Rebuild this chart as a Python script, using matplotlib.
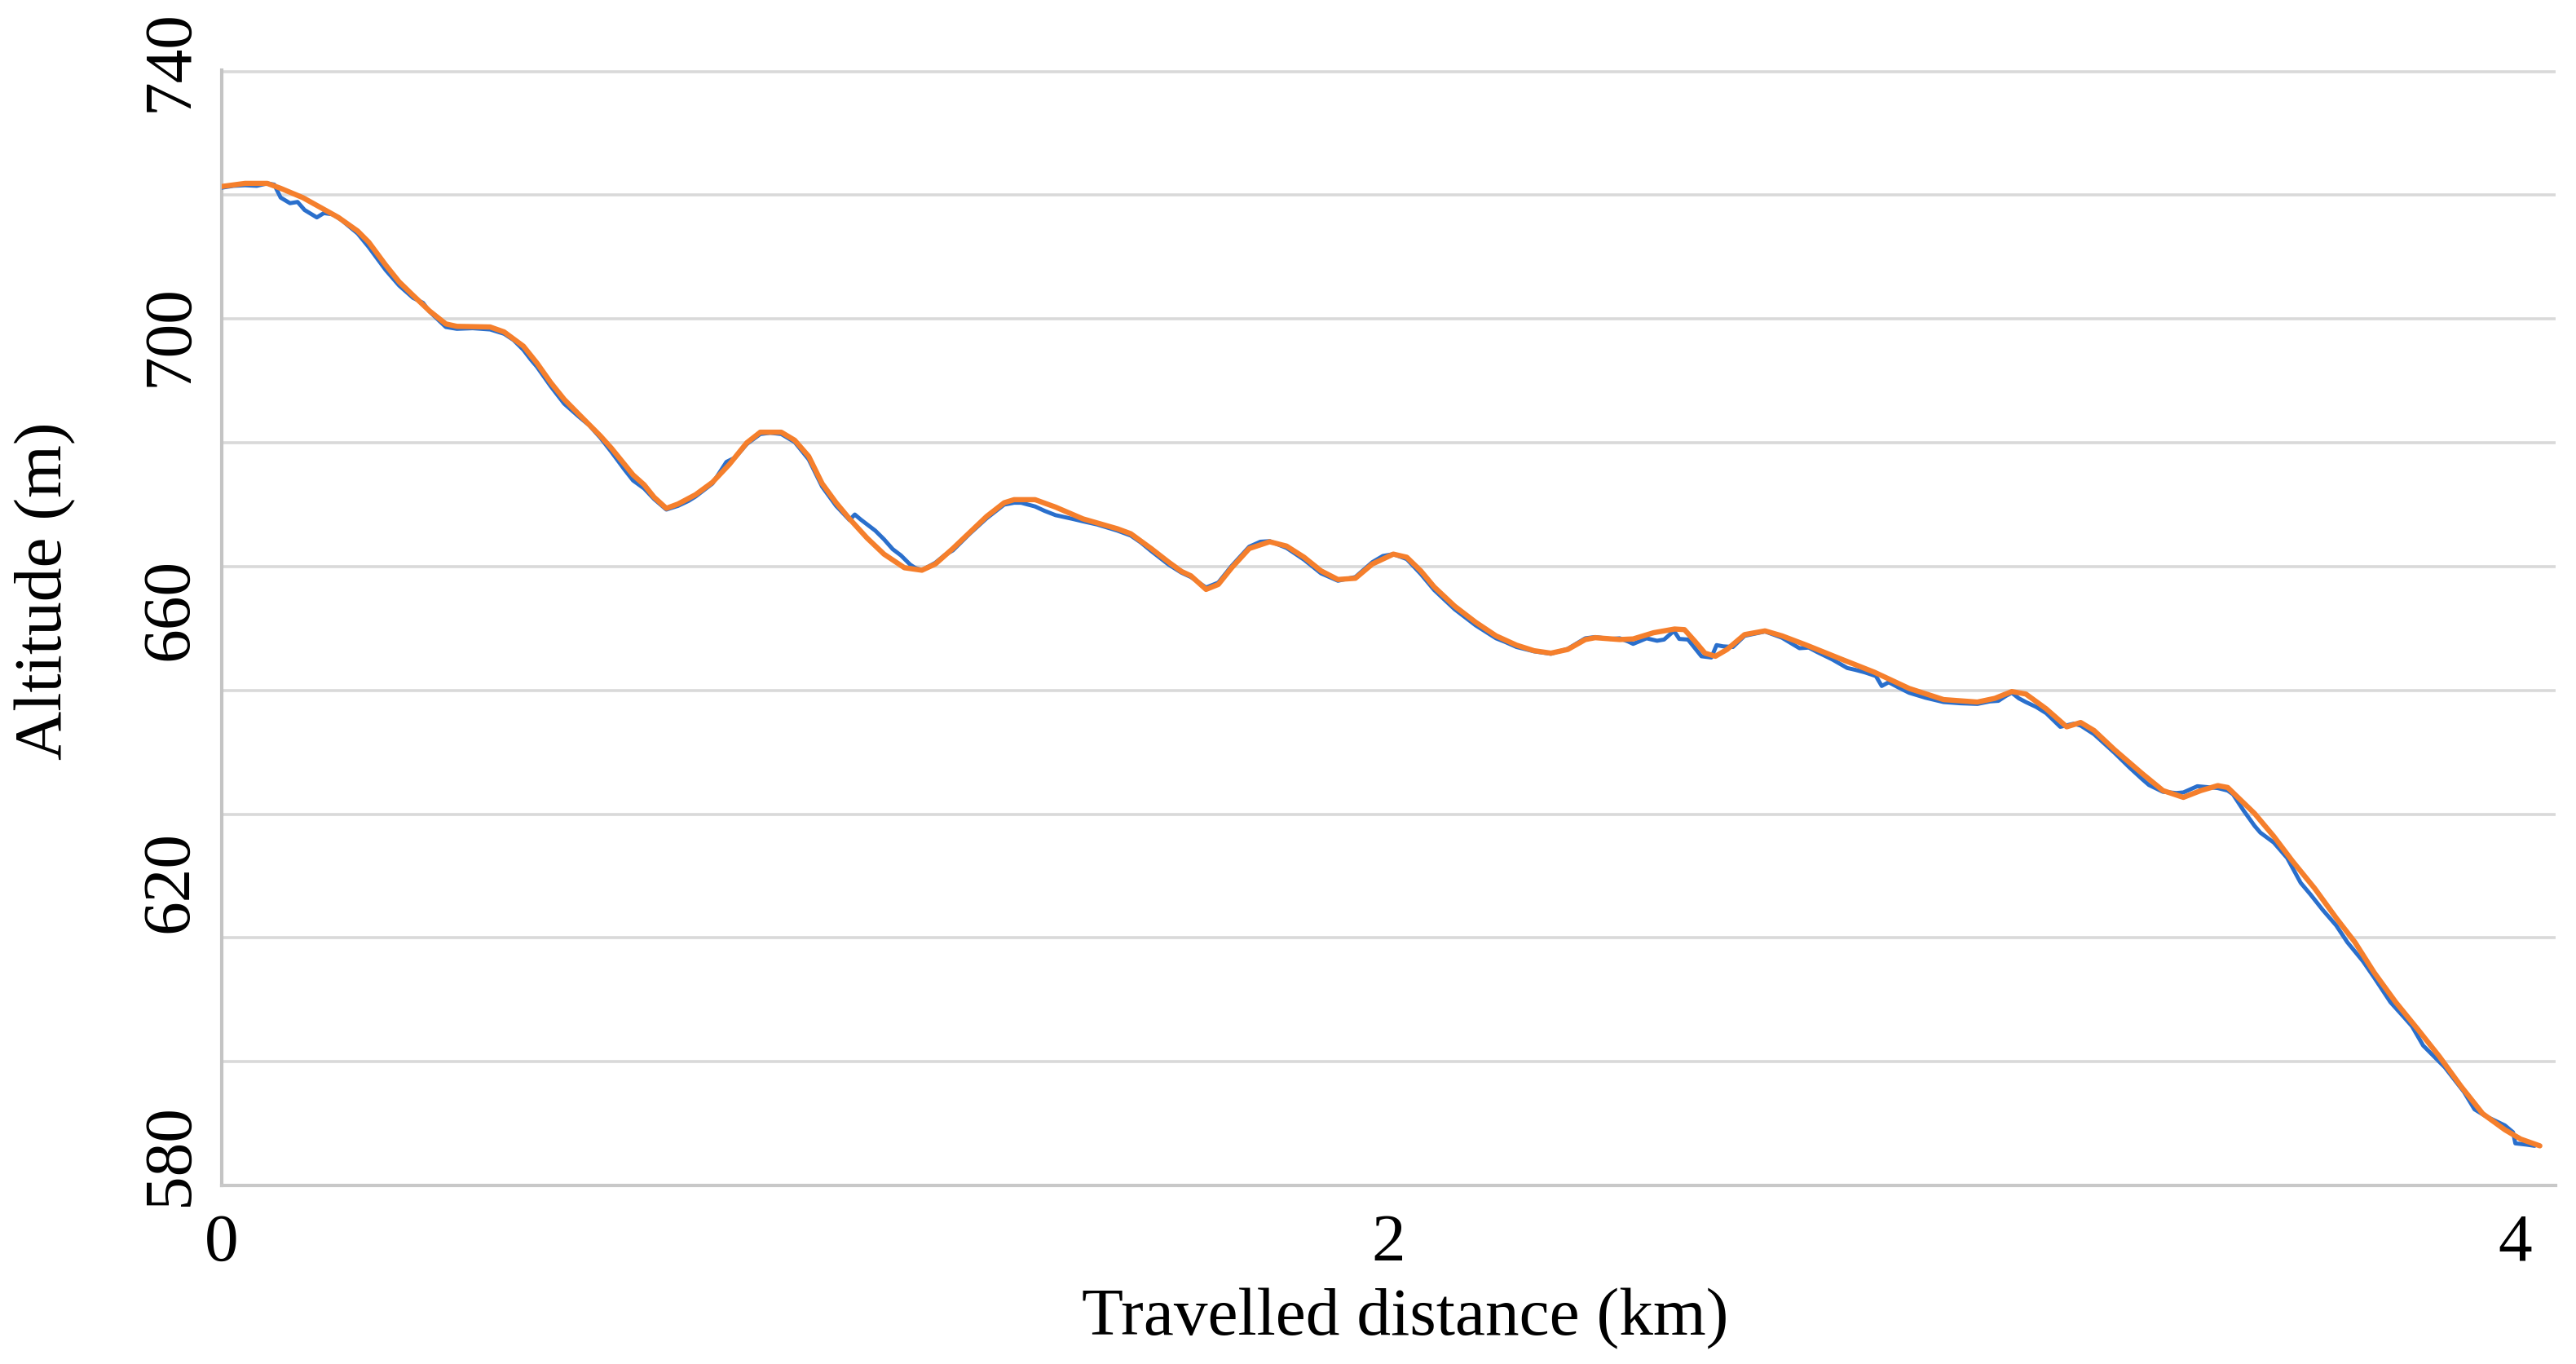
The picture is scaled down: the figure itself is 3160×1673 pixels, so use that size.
import matplotlib
matplotlib.use("Agg")
import matplotlib.pyplot as plt
import matplotlib.transforms as mtransforms

# ─── Datos ────────────────────────────────────────────────────────────────────
# perfil suavizado (naranja): distancia (km), altitud (m)
dist_suave = [0.000, 0.040, 0.078, 0.101, 0.139, 0.177, 0.200, 0.233, 0.252, 0.281,
              0.304, 0.328, 0.356, 0.384, 0.403, 0.460, 0.484, 0.517, 0.540, 0.564,
              0.587, 0.611, 0.649, 0.668, 0.705, 0.724, 0.741, 0.762, 0.782, 0.812,
              0.841, 0.870, 0.900, 0.923, 0.959, 0.982, 1.006, 1.029, 1.053, 1.076,
              1.106, 1.135, 1.170, 1.200, 1.223, 1.253, 1.282, 1.311, 1.341, 1.358,
              1.394, 1.429, 1.476, 1.535, 1.558, 1.593, 1.623, 1.645, 1.661, 1.687,
              1.708, 1.731, 1.761, 1.796, 1.825, 1.855, 1.884, 1.913, 1.943, 1.972,
              2.008, 2.031, 2.055, 2.078, 2.113, 2.149, 2.184, 2.219, 2.249, 2.278,
              2.307, 2.337, 2.354, 2.396, 2.419, 2.454, 2.490, 2.507, 2.525, 2.542,
              2.560, 2.580, 2.610, 2.645, 2.674, 2.716, 2.774, 2.833, 2.892, 2.951,
              3.009, 3.039, 3.068, 3.092, 3.127, 3.162, 3.186, 3.209, 3.244, 3.292,
              3.327, 3.362, 3.392, 3.421, 3.438, 3.461, 3.484, 3.517, 3.549, 3.587,
              3.624, 3.656, 3.689, 3.726, 3.764, 3.801, 3.838, 3.875, 3.913, 3.940,
              3.973]
alt_suave = [721.4, 721.9, 721.9, 721.1, 719.6, 717.6, 716.4, 714.2, 712.4, 708.7,
             706.0, 703.8, 701.3, 699.2, 698.8, 698.7, 697.9, 695.6, 692.9, 689.7,
             687.0, 684.7, 681.1, 679.1, 674.8, 673.2, 671.2, 669.4, 670.1, 671.6,
             673.6, 676.5, 680.0, 681.7, 681.7, 680.4, 677.8, 673.4, 670.3, 667.7,
             664.6, 662.0, 659.8, 659.4, 660.4, 662.9, 665.5, 668.1, 670.3, 670.8,
             670.8, 669.6, 667.7, 666.1, 665.3, 662.9, 660.7, 659.2, 658.5, 656.3,
             657.1, 659.8, 662.9, 664.0, 663.3, 661.5, 659.3, 657.9, 658.1, 660.4,
             662.0, 661.5, 659.3, 656.7, 653.6, 651.0, 648.8, 647.3, 646.4, 646.0,
             646.6, 648.2, 648.5, 648.2, 648.3, 649.3, 649.9, 649.8, 647.9, 646.0,
             645.5, 646.6, 649.0, 649.6, 648.8, 647.3, 645.1, 642.9, 640.3, 638.5,
             638.1, 638.7, 639.8, 639.4, 637.0, 634.1, 634.8, 633.5, 630.4, 626.5,
             623.8, 622.7, 623.8, 624.6, 624.3, 622.2, 620.1, 616.4, 612.4, 608.0,
             603.2, 599.3, 594.4, 589.6, 585.2, 580.8, 576.0, 571.6, 569.0, 567.5,
             566.4]

# perfil medido (azul)
dist_gps = [0.000, 0.020, 0.040, 0.060, 0.078, 0.090, 0.101, 0.117, 0.130, 0.142,
            0.163, 0.175, 0.190, 0.205, 0.233, 0.252, 0.281, 0.304, 0.328, 0.345,
            0.356, 0.384, 0.403, 0.430, 0.460, 0.484, 0.500, 0.517, 0.530, 0.540,
            0.564, 0.587, 0.611, 0.630, 0.649, 0.668, 0.690, 0.705, 0.724, 0.741,
            0.762, 0.782, 0.800, 0.812, 0.841, 0.865, 0.880, 0.900, 0.923, 0.940,
            0.959, 0.982, 1.006, 1.029, 1.053, 1.076, 1.085, 1.095, 1.106, 1.120,
            1.135, 1.150, 1.164, 1.180, 1.188, 1.200, 1.223, 1.240, 1.253, 1.282,
            1.311, 1.341, 1.358, 1.370, 1.394, 1.410, 1.429, 1.458, 1.476, 1.500,
            1.535, 1.558, 1.575, 1.593, 1.623, 1.645, 1.661, 1.687, 1.708, 1.731,
            1.761, 1.780, 1.796, 1.825, 1.855, 1.884, 1.913, 1.943, 1.972, 1.990,
            2.008, 2.031, 2.055, 2.078, 2.113, 2.149, 2.184, 2.200, 2.219, 2.249,
            2.278, 2.307, 2.337, 2.354, 2.380, 2.396, 2.410, 2.419, 2.442, 2.460,
            2.472, 2.489, 2.498, 2.513, 2.536, 2.553, 2.562, 2.573, 2.590, 2.610,
            2.645, 2.674, 2.704, 2.720, 2.734, 2.760, 2.786, 2.800, 2.816, 2.835,
            2.845, 2.857, 2.875, 2.892, 2.920, 2.951, 2.980, 3.009, 3.030, 3.045,
            3.058, 3.068, 3.080, 3.092, 3.110, 3.127, 3.151, 3.174, 3.186, 3.209,
            3.244, 3.270, 3.292, 3.303, 3.327, 3.350, 3.362, 3.386, 3.421, 3.438,
            3.447, 3.465, 3.484, 3.494, 3.517, 3.540, 3.563, 3.580, 3.601, 3.624,
            3.643, 3.670, 3.689, 3.717, 3.740, 3.754, 3.773, 3.790, 3.810, 3.843,
            3.861, 3.880, 3.913, 3.927, 3.931, 3.950, 3.964]
alt_gps = [721.2, 721.5, 721.6, 721.5, 721.9, 721.7, 719.6, 718.7, 718.9, 717.6,
           716.4, 717.1, 716.9, 716.0, 713.8, 711.6, 707.9, 705.4, 703.4, 702.6,
           701.2, 698.7, 698.4, 698.5, 698.3, 697.6, 696.6, 695.0, 693.4, 692.3,
           689.1, 686.3, 684.3, 682.8, 680.8, 678.5, 675.7, 673.9, 672.6, 670.9,
           669.2, 669.8, 670.6, 671.3, 673.4, 676.9, 677.6, 679.8, 681.4, 681.6,
           681.4, 680.1, 677.3, 672.9, 669.8, 667.5, 668.4, 667.6, 666.8, 665.8,
           664.4, 662.8, 661.8, 660.3, 659.8, 659.4, 660.6, 661.9, 662.6, 665.3,
           667.8, 670.0, 670.3, 670.3, 669.7, 669.0, 668.3, 667.7, 667.3, 666.8,
           665.8, 665.0, 663.9, 662.5, 660.3, 659.0, 658.3, 656.6, 657.4, 660.1,
           663.2, 664.0, 664.1, 663.0, 661.1, 658.9, 657.7, 658.3, 660.7, 661.7,
           662.0, 661.2, 658.8, 656.2, 653.1, 650.5, 648.4, 647.8, 647.0, 646.3,
           645.9, 646.7, 648.4, 648.6, 648.3, 648.4, 647.9, 647.5, 648.4, 648.0,
           648.2, 649.6, 648.3, 648.2, 645.5, 645.3, 647.3, 647.1, 647.0, 648.8,
           649.5, 648.5, 646.8, 646.9, 646.2, 645.0, 643.6, 643.3, 642.9, 642.3,
           640.7, 641.3, 640.4, 639.6, 638.8, 638.1, 637.9, 637.8, 638.2, 638.3,
           639.1, 639.6, 638.7, 638.1, 637.3, 636.3, 634.1, 634.6, 634.3, 632.9,
           629.9, 627.5, 625.6, 624.7, 623.6, 623.4, 623.5, 624.5, 624.2, 623.8,
           623.2, 620.6, 618.1, 617.0, 615.4, 612.9, 608.9, 607.0, 604.5, 602.0,
           599.3, 596.2, 593.6, 589.6, 587.2, 585.7, 582.6, 581.0, 579.1, 575.1,
           572.3, 571.2, 569.7, 568.6, 566.8, 566.6, 566.4]

# etiquetas del eje y tal como aparecen en la figura (posicion en escala de la rejilla)
ytick_txt = ["740", "700", "660", "620", "580"]
ytick_pos = [741.8, 697.5, 653.2, 609.2, 565.1]
xtick_txt = ["0", "2", "4"]
xtick_pos = [0.0, 2.0, 3.93]
grid_y = list(range(560, 741, 20))

# ─── Figura ──────────────────────────────────────────────────────────────────
plt.rcParams["font.family"] = ["Liberation Serif", "DejaVu Serif"]

fig = plt.figure(figsize=(31.6, 16.74), dpi=100)
ax = fig.add_axes([272 / 3160, 1 - 1455 / 1674, (3135 - 272) / 3160, (1455 - 87) / 1674])

ax.plot(dist_gps, alt_gps, color="#2A6FCC", lw=3.6, zorder=3,
        solid_joinstyle="round", solid_capstyle="round")
ax.plot(dist_suave, alt_suave, color="#F57F2C", lw=4.6, zorder=4,
        solid_joinstyle="round", solid_capstyle="round")

ax.set_xlim(0, 4.0)
ax.set_ylim(560, 740.2)

ax.set_yticks(grid_y)
ax.set_yticklabels([])
ax.tick_params(axis="y", length=0)
ax.grid(axis="y", color="#D9D9D9", lw=2.6)
ax.set_axisbelow(True)

ax.set_xticks(xtick_pos)
ax.set_xticklabels(xtick_txt, fontsize=60)
ax.tick_params(axis="x", length=0, pad=24)

for s in ["top", "right"]:
    ax.spines[s].set_visible(False)
ax.spines["left"].set_color("#C4C4C4")
ax.spines["left"].set_linewidth(3.0)
ax.spines["bottom"].set_color("#C8C8C8")
ax.spines["bottom"].set_linewidth(3.0)

trans = mtransforms.blended_transform_factory(ax.transAxes, ax.transData)
for txt, y in zip(ytick_txt, ytick_pos):
    ax.text(-0.0217, y, txt, transform=trans, rotation=90, fontsize=60,
            ha="center", va="center", clip_on=False)

fig.text(56 / 3160, 1 - 725 / 1674, "Altitude (m)", rotation=90, fontsize=60,
         ha="center", va="center")
fig.text(1724 / 3160, 1 - 1618 / 1674, "Travelled distance (km)", fontsize=60,
         ha="center", va="center")

fig.savefig("out.png", dpi=100, facecolor="white")
